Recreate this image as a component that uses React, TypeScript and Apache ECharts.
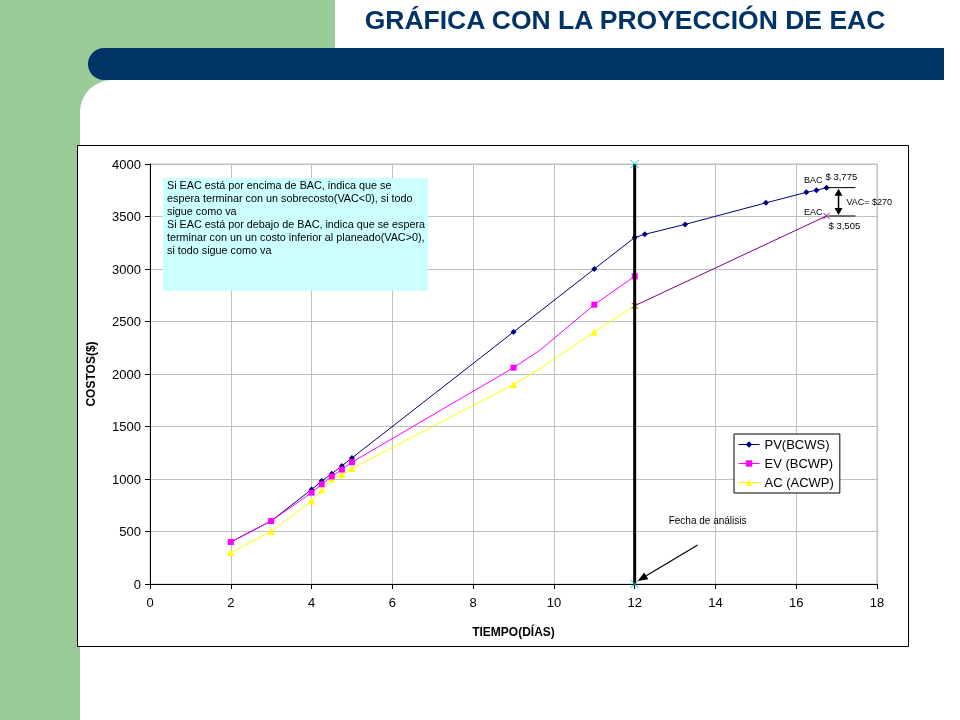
import React, { useEffect, useRef } from "react";
import * as echarts from "echarts";

const pvX = [2, 3, 4, 4.25, 4.5, 4.75, 5, 9, 11, 12, 12.25, 13.25, 15.25, 16.25, 16.5, 16.75];
const pvY = [400, 600, 900, 980, 1050, 1125, 1200, 2400, 3000, 3300, 3330, 3425, 3630, 3730, 3750, 3775];
const evX = [2, 3, 4, 4.25, 4.5, 4.75, 5, 9, 9.66, 11, 12];
const evY = [400, 600, 870, 950, 1025, 1090, 1160, 2060, 2228, 2660, 2930];
const evMarker = [true, true, true, true, true, true, true, true, false, true, true];
const acX = [2, 3, 4, 4.25, 4.5, 4.75, 5, 9, 9.7, 11, 12];
const acY = [300, 500, 790, 895, 1000, 1040, 1100, 1900, 2060, 2400, 2650];
const acMarker = [true, true, true, true, true, true, true, true, false, true, true];
const eacX = [12, 16.75];
const eacY = [2650, 3505];
const fechaX = [12, 12];
const fechaY = [0, 4000];
const BAC = 3775;
const EAC = 3505;
const VAC = BAC - EAC;
const xTicks = { min: 0, max: 18, interval: 2 };
const yTicks = { min: 0, max: 4000, interval: 500 };
const legendNames = ["PV(BCWS)", "EV (BCWP)", "AC (ACWP)"];
const noteLines = [
  "Si EAC está por encima de BAC, indica que se",
  "espera terminar con un sobrecosto(VAC<0), si todo",
  "sigue como va",
  "Si EAC está por debajo de BAC, indica que se espera",
  "terminar con un un costo inferior al planeado(VAC>0),",
  "si todo sigue como va",
];

const FONT = "'Liberation Sans', Arial, sans-serif";
const CROSS = "path://M0,0L10,10M10,0L0,10";

const pairs = (xs: number[], ys: number[], marks?: boolean[]) =>
  xs.map((x, i) =>
    marks && !marks[i] ? { value: [x, ys[i]], symbol: "none" } : [x, ys[i]]
  );

export default function App() {
  const ref = useRef<HTMLDivElement>(null);
  useEffect(() => {
    if (!ref.current) return;
    const chart = echarts.init(ref.current, null, { renderer: "svg" });

    const background: any[] = [
      { type: "rect", z: -100, shape: { x: 0, y: 0, width: 335, height: 110 }, style: { fill: "#99CC99" } },
      { type: "rect", z: -100, shape: { x: 0, y: 0, width: 80, height: 720 }, style: { fill: "#99CC99" } },
      { type: "rect", z: -99, shape: { x: 80, y: 80, width: 880, height: 640, r: [32, 0, 0, 0] }, style: { fill: "#FFFFFF" } },
      { type: "rect", z: -98, shape: { x: 88, y: 48, width: 856, height: 32, r: [16, 0, 0, 16] }, style: { fill: "#003366" } },
      {
        type: "text", z: -97, x: 625, y: 20,
        style: { text: "GRÁFICA CON LA PROYECCIÓN DE EAC", fill: "#003366", font: `bold 26.5px ${FONT}`, textAlign: "center", textVerticalAlign: "middle" },
      },
      { type: "rect", z: -90, shape: { x: 77.5, y: 145.5, width: 831, height: 501 }, style: { fill: "#FFFFFF", stroke: "#000000", lineWidth: 1 } },
    ];

    const option: any = {
      animation: false,
      grid: { left: 150, top: 164, width: 727, height: 420, show: true, borderColor: "#C0C0C0", borderWidth: 1, containLabel: false },
      xAxis: {
        type: "value", ...xTicks,
        name: "TIEMPO(DÍAS)", nameLocation: "middle", nameGap: 42,
        nameTextStyle: { fontFamily: FONT, fontWeight: "bold", fontSize: 12, color: "#000" },
        axisLine: { show: true, lineStyle: { color: "#000", width: 1 } },
        axisTick: { show: true, length: 5, lineStyle: { color: "#000" } },
        axisLabel: { fontFamily: FONT, fontSize: 13, color: "#000", margin: 12, formatter: (v: number) => String(v) },
        splitLine: { show: true, lineStyle: { color: "#C0C0C0", width: 1 } },
      },
      yAxis: {
        type: "value", ...yTicks,
        name: "COSTOS($)", nameLocation: "middle", nameGap: 53, nameRotate: 90,
        nameTextStyle: { fontFamily: FONT, fontWeight: "bold", fontSize: 12, color: "#000" },
        axisLine: { show: true, lineStyle: { color: "#000", width: 1 } },
        axisTick: { show: true, length: 5, lineStyle: { color: "#000" } },
        axisLabel: { fontFamily: FONT, fontSize: 13, color: "#000", margin: 9, formatter: (v: number) => String(v) },
        splitLine: { show: true, lineStyle: { color: "#C0C0C0", width: 1 } },
      },
      legend: {
        data: legendNames,
        left: 734, top: 434, orient: "vertical",
        backgroundColor: "#FFFFFF", borderColor: "#000", borderWidth: 1, borderRadius: 0,
        padding: [4, 6, 4, 4], itemGap: 6, itemWidth: 21, itemHeight: 8,
        lineStyle: { width: 1 },
        textStyle: { fontFamily: FONT, fontSize: 13, color: "#000" },
      },
      series: [
        {
          name: legendNames[0], type: "line", data: pairs(pvX, pvY),
          symbol: "diamond", symbolSize: 6, color: "#000080",
          lineStyle: { color: "#000080", width: 1 }, z: 3,
        },
        {
          name: legendNames[1], type: "line", data: pairs(evX, evY, evMarker),
          symbol: "rect", symbolSize: 6, color: "#FF00FF",
          lineStyle: { color: "#FF00FF", width: 1 }, z: 4,
        },
        {
          name: legendNames[2], type: "line", data: pairs(acX, acY, acMarker),
          symbol: "triangle", symbolSize: 7, color: "#FFFF00",
          lineStyle: { color: "#FFFF00", width: 1 }, z: 2,
        },
        {
          name: "EAC", type: "line",
          data: [
            { value: [eacX[0], eacY[0]], itemStyle: { borderColor: "#B04040" } },
            { value: [eacX[1], eacY[1]] },
          ],
          symbol: CROSS, symbolSize: 6, color: "#800080",
          itemStyle: { color: "none", borderColor: "#800080", borderWidth: 1 },
          lineStyle: { color: "#800080", width: 1 }, z: 5,
        },
        {
          name: "Fecha", type: "line", data: pairs(fechaX, fechaY),
          symbol: CROSS, symbolSize: 8, color: "#000",
          itemStyle: { color: "none", borderColor: "#00CCCC", borderWidth: 1 },
          lineStyle: { color: "#000", width: 3 }, z: 6,
        },
      ],
      graphic: background,
    };
    chart.setOption(option);

    const px = (x: number, y: number) => chart.convertToPixel({ xAxisIndex: 0, yAxisIndex: 0 }, [x, y]) as number[];
    const bac = px(pvX[pvX.length - 1], BAC);
    const eac = px(eacX[1], EAC);
    const f0 = px(fechaX[0], 0);
    const txt = (x: number, y: number, text: string, size: number, align = "left", vAlign = "middle") => ({
      type: "text", x, y, z: 50,
      style: { text, fill: "#000", font: `${size}px ${FONT}`, textAlign: align, textVerticalAlign: vAlign },
    });
    const tri = (pts: number[][]) => ({ type: "polygon", z: 50, shape: { points: pts }, style: { fill: "#000" } });

    // arrow for "Fecha de análisis"
    const head = [f0[0] + 3, f0[1] - 3];
    const tail = [f0[0] + 63, f0[1] - 39];
    const dx = head[0] - tail[0], dy = head[1] - tail[1];
    const len = Math.hypot(dx, dy);
    const ux = dx / len, uy = dy / len;
    const bx = head[0] - ux * 10, by = head[1] - uy * 10;
    const arrowHead = [head, [bx - uy * 4, by + ux * 4], [bx + uy * 4, by - ux * 4]];

    const ax = bac[0] + 12;
    const extra: any[] = [
      // note box
      { type: "rect", z: 40, shape: { x: 163, y: 178, width: 265, height: 113 }, style: { fill: "#CCFFFF" } },
      ...noteLines.map((l, i) => txt(167, 185 + i * 13, l, 10.8)),
      // BAC / EAC annotation
      { type: "line", z: 50, shape: { x1: bac[0], y1: bac[1], x2: bac[0] + 29, y2: bac[1] }, style: { stroke: "#000", lineWidth: 1 } },
      { type: "line", z: 50, shape: { x1: eac[0] + 2, y1: eac[1], x2: bac[0] + 29, y2: eac[1] }, style: { stroke: "#000", lineWidth: 1 } },
      { type: "line", z: 50, shape: { x1: ax, y1: bac[1] + 6, x2: ax, y2: eac[1] - 6 }, style: { stroke: "#000", lineWidth: 1.5 } },
      tri([[ax, bac[1] + 1], [ax - 4, bac[1] + 8], [ax + 4, bac[1] + 8]]),
      tri([[ax, eac[1] - 1], [ax - 4, eac[1] - 8], [ax + 4, eac[1] - 8]]),
      txt(bac[0] - 4, bac[1] - 8, "BAC", 9, "right"),
      txt(bac[0] - 1, bac[1] - 11, "$ " + BAC.toLocaleString("en-US"), 9.5, "left"),
      txt(ax + 8, (bac[1] + eac[1]) / 2, "VAC= $" + VAC, 9, "left"),
      txt(eac[0] - 4, eac[1] - 4, "EAC", 9, "right"),
      txt(eac[0] + 2, eac[1] + 10, "$ " + EAC.toLocaleString("en-US"), 9.5, "left"),
      // fecha de análisis
      txt(f0[0] + 34, f0[1] - 64, "Fecha de análisis", 10, "left"),
      { type: "line", z: 50, shape: { x1: tail[0], y1: tail[1], x2: bx, y2: by }, style: { stroke: "#000", lineWidth: 1.2 } },
      tri(arrowHead),
    ];
    chart.setOption({ graphic: [...background, ...extra] });

    return () => chart.dispose();
  }, []);
  return <div ref={ref} style={{ position: "fixed", left: 0, top: 0, width: 960, height: 720 }} />;
}
